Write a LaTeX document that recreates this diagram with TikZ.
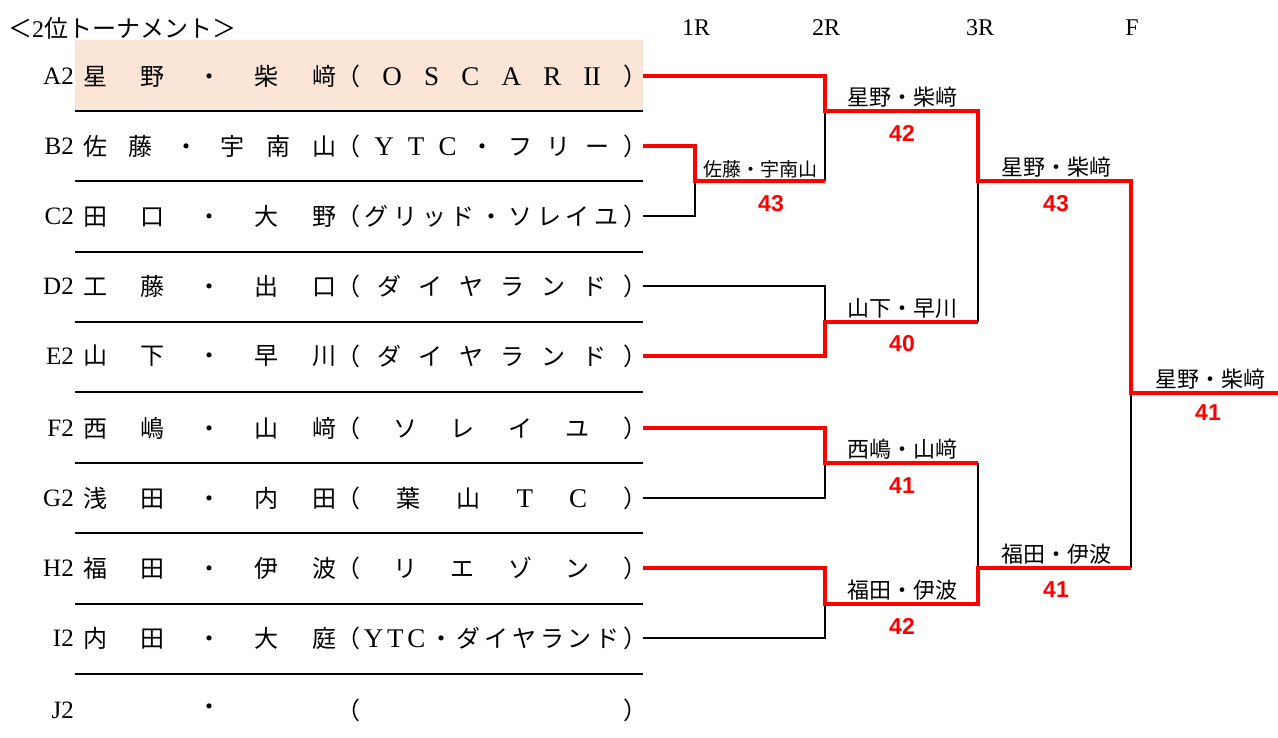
\documentclass[tikz,border=0pt]{standalone}
\usepackage{fontspec}
\setmainfont{Liberation Serif}
\newfontfamily\jp{Noto Sans CJK JP}
\newfontfamily\scorefont{Liberation Sans}
\definecolor{hilite}{RGB}{251,229,214}
\definecolor{winred}{RGB}{255,0,0}
\tikzset{
  lab/.style={anchor=east,inner sep=0pt,font=\fontsize{25}{25}\selectfont},
  nm/.style={anchor=west,inner sep=0pt,font=\jp\fontsize{24}{24}\selectfont},
  tm/.style={anchor=west,inner sep=0pt,font=\jp\fontsize{24}{24}\selectfont},
  sep/.style={line width=1.5pt},
  lose/.style={line width=2pt,black},
  win/.style={line width=3.5pt,winred},
  rname/.style={inner sep=0pt,font=\jp\fontsize{22}{22}\selectfont},
  score/.style={inner sep=0pt,text=winred,font=\scorefont\bfseries\fontsize{23}{23}\selectfont},
  head/.style={inner sep=0pt,font=\fontsize{24}{24}\selectfont}
}
\newcommand\lat[1]{{\rmfamily\fontsize{27}{27}\selectfont#1}}
\newcommand\dist[2]{\makebox[#1pt][s]{\foreach \chr [count=\i] in {#2}{\ifnum\i>1 \hfill\fi\chr}}}
\newcommand\teamrow[5]{%
  \node[lab] (l#1) at (74,#2) {#3};
  \node[nm] (n#1) at (83,#2) {\dist{253}{#4}};
  \node[tm] (t#1) at (336,#2) {\dist{311}{#5}};
  \coordinate (e#1) at (643,#2);
}
\begin{document}
\begin{tikzpicture}[x=1pt,y=-1pt]
\useasboundingbox (0,0) rectangle (1278,738);
\fill[hilite] (75,40) rectangle (643,111);
\foreach \y in {111,181,252,322,392,463,533,604,674}\draw[sep] (75,\y) -- (643,\y);

\node[head,anchor=west] (title) at (8,28) {{\jp ＜}2{\jp 位トーナメント＞}};
\node[head] (h1) at (696,28) {1R};
\node[head] (h2) at (826,28) {2R};
\node[head] (h3) at (980,28) {3R};
\node[head] (h4) at (1132,28) {F};

\teamrow{A}{76}{A2}{星,野,・,柴,﨑}{（,\lat O,\lat S,\lat C,\lat A,\lat R,\lat{I\kern-.5pt I},）}
\teamrow{B}{146}{B2}{佐,藤,・,宇,南,山}{（,\lat Y,\lat T,\lat C,・,フ,リ,ー,）}
\teamrow{C}{216}{C2}{田,口,・,大,野}{（,グ,リ,ッ,ド,・,ソ,レ,イ,ユ,）}
\teamrow{D}{286}{D2}{工,藤,・,出,口}{（,ダ,イ,ヤ,ラ,ン,ド,）}
\teamrow{E}{356}{E2}{山,下,・,早,川}{（,ダ,イ,ヤ,ラ,ン,ド,）}
\teamrow{F}{428}{F2}{西,嶋,・,山,﨑}{（,ソ,レ,イ,ユ,）}
\teamrow{G}{498}{G2}{浅,田,・,内,田}{（,葉,山,\lat T,\lat C,）}
\teamrow{H}{568}{H2}{福,田,・,伊,波}{（,リ,エ,ゾ,ン,）}
\teamrow{I}{638}{I2}{内,田,・,大,庭}{（,\lat Y,\lat T,\lat C,・,ダ,イ,ヤ,ラ,ン,ド,）}
\teamrow{J}{710}{J2}{\hfil・\hfil}{（,）}

\coordinate (r1) at (695,181);
\coordinate (r1e) at (825,181);
\coordinate (q1) at (825,111);
\coordinate (q1e) at (978,111);
\coordinate (q2) at (825,322);
\coordinate (q2e) at (978,322);
\coordinate (q3) at (825,463);
\coordinate (q3e) at (978,463);
\coordinate (q4) at (825,604);
\coordinate (q4e) at (978,604);
\coordinate (s1) at (978,181);
\coordinate (s1e) at (1131,181);
\coordinate (s2) at (978,568);
\coordinate (s2e) at (1131,568);
\coordinate (f) at (1131,393);
\coordinate (fe) at (1278,393);

\draw[lose] (eC) -| (r1);
\draw[lose] (r1e) -- (q1);
\draw[lose] (eD) -| (q2);
\draw[lose] (q2e) -- (s1);
\draw[lose] (eG) -| (q3);
\draw[lose] (eI) -| (q4);
\draw[lose] (q3e) -- (s2);
\draw[lose] (s2e) -- (f);

\draw[win] (eA) -| (q1) -- (q1e) -- (s1) -- (s1e) -- (f) -- (fe);
\draw[win] (eB) -| (r1) -- (r1e);
\draw[win] (eE) -| (q2) -- (q2e);
\draw[win] (eF) -| (q3) -- (q3e);
\draw[win] (eH) -| (q4) -- (q4e) -- (s2) -- (s2e);

\node[rname,font=\jp\fontsize{19}{19}\selectfont] (wr1) at (760,169) {佐藤・宇南山};
\node[score] (sr1) at (771,204) {43};
\node[rname] (wq1) at (902,97) {星野・柴﨑};
\node[score] (sq1) at (902,133) {42};
\node[rname] (wq2) at (902,308) {山下・早川};
\node[score] (sq2) at (902,344) {40};
\node[rname] (wq3) at (902,449) {西嶋・山﨑};
\node[score] (sq3) at (902,486) {41};
\node[rname] (wq4) at (902,590) {福田・伊波};
\node[score] (sq4) at (902,626) {42};
\node[rname] (ws1) at (1056,167) {星野・柴﨑};
\node[score] (ss1) at (1056,204) {43};
\node[rname] (ws2) at (1056,554) {福田・伊波};
\node[score] (ss2) at (1056,590) {41};
\node[rname] (wf) at (1210,379) {星野・柴﨑};
\node[score] (sf) at (1208,413) {41};
\end{tikzpicture}
\end{document}
